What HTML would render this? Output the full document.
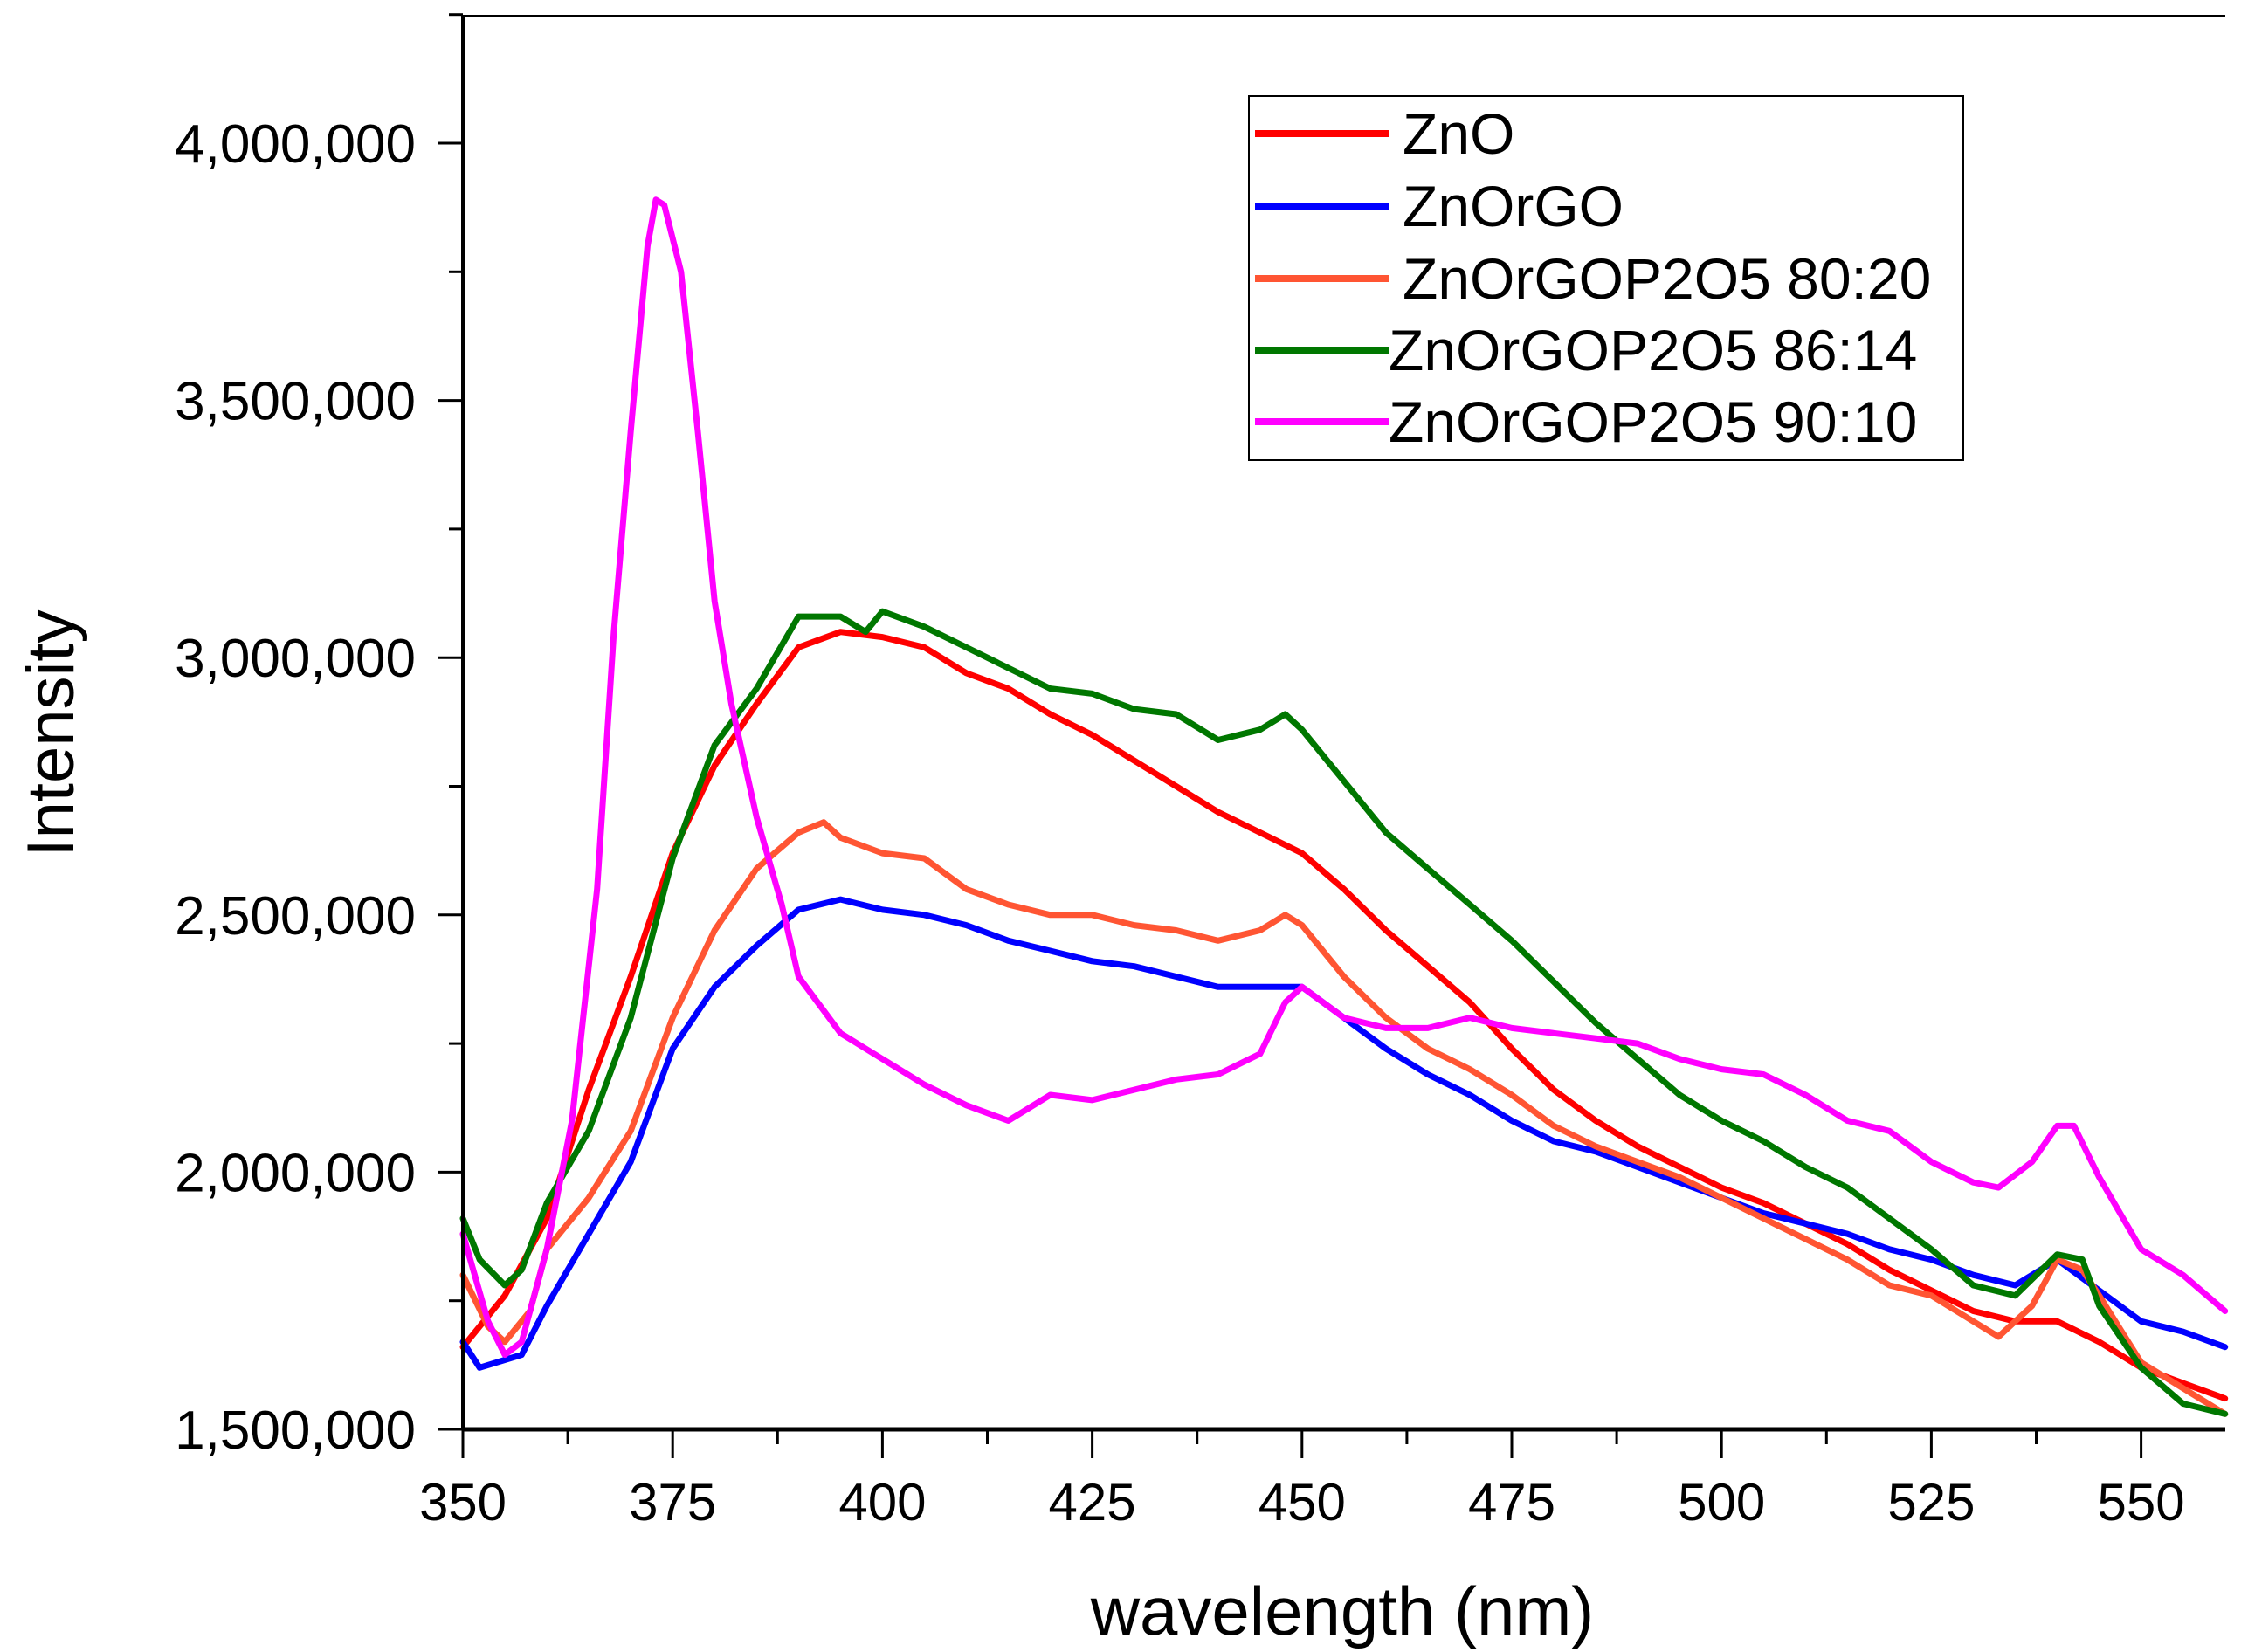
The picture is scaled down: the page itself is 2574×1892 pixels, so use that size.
<!DOCTYPE html>
<html><head><meta charset="utf-8"><style>
html,body{margin:0;padding:0;background:#fff;}
svg{display:block;font-family:"Liberation Sans",Arial,sans-serif;}
</style></head><body>
<svg id="chart" width="2574" height="1892" viewBox="0 0 2574 1892" xmlns="http://www.w3.org/2000/svg">
<rect width="2574" height="1892" fill="#fff"/>
<g id="series"></g>
<line x1="530" y1="18" x2="2548" y2="18" stroke="#000" stroke-width="2"/>
<g id="axes"></g>
<text x="1537" y="1872" font-size="78" text-anchor="middle">wavelength (nm)</text>
<text transform="translate(84,840) rotate(-90)" font-size="76" text-anchor="middle">Intensity</text>
<g id="legend">
<rect x="1430" y="110" width="818" height="417" fill="#fff" stroke="#000" stroke-width="2"/>
</g>
</svg>
<script>
const wlZnO=[350,355,360,365,370,375,380,385,390,395,400,405,410,415,420,425,430,435,440,445,450,455,460,465,470,475,480,485,490,495,500,505,510,515,520,525,530,535,540,545,550,555,560];
const valZnO=[1.66,1.76,1.91,2.16,2.38,2.62,2.79,2.91,3.02,3.05,3.04,3.02,2.97,2.94,2.89,2.85,2.80,2.75,2.70,2.66,2.62,2.55,2.47,2.40,2.33,2.24,2.16,2.10,2.05,2.01,1.97,1.94,1.90,1.86,1.81,1.77,1.73,1.71,1.71,1.67,1.62,1.59,1.56];
const wlGO=[350,352,355,357,360,365,370,375,380,385,390,395,400,405,410,415,420,425,430,435,440,445,450,455,460,465,470,475,480,485,490,495,500,505,510,515,520,525,530,535,540,545,550,555,560];
const valGO=[1.67,1.62,1.635,1.645,1.74,1.88,2.02,2.24,2.36,2.44,2.51,2.53,2.51,2.50,2.48,2.45,2.43,2.41,2.40,2.38,2.36,2.36,2.36,2.30,2.24,2.19,2.15,2.10,2.06,2.04,2.01,1.98,1.95,1.92,1.90,1.88,1.85,1.83,1.80,1.78,1.83,1.77,1.71,1.69,1.66];
const wl8020=[350,353,355,358,360,365,370,375,380,385,390,393,395,400,405,410,415,420,425,430,435,440,445,448,450,455,460,465,470,475,480,485,490,495,500,505,510,515,520,525,530,533,537,540,543,545,550,555,560];
const val8020=[1.80,1.70,1.67,1.73,1.85,1.95,2.08,2.30,2.47,2.59,2.66,2.68,2.65,2.62,2.61,2.55,2.52,2.50,2.50,2.48,2.47,2.45,2.47,2.50,2.48,2.38,2.30,2.24,2.20,2.15,2.09,2.05,2.02,1.99,1.95,1.91,1.87,1.83,1.78,1.76,1.71,1.68,1.74,1.83,1.81,1.76,1.63,1.58,1.53];
const wl8614=[350,352,355,357,360,365,370,375,380,385,390,395,398,400,405,410,415,420,425,430,435,440,445,448,450,455,460,465,470,475,480,485,490,495,500,505,510,515,520,525,530,535,540,543,545,550,555,560];
const val8614=[1.91,1.83,1.78,1.81,1.94,2.08,2.30,2.61,2.83,2.94,3.08,3.08,3.05,3.09,3.06,3.02,2.98,2.94,2.93,2.90,2.89,2.84,2.86,2.89,2.86,2.76,2.66,2.59,2.52,2.45,2.37,2.29,2.22,2.15,2.10,2.06,2.01,1.97,1.91,1.85,1.78,1.76,1.84,1.83,1.74,1.62,1.55,1.53];
const wl9010=[350,353,355,357,360,363,366,368,370,372,373,374,376,378,380,382,385,388,390,395,400,405,410,415,420,425,430,435,440,445,448,450,455,460,465,470,475,480,485,490,495,500,505,510,515,520,525,530,533,537,540,542,545,550,555,560];
const val9010=[1.88,1.71,1.645,1.67,1.85,2.10,2.55,3.05,3.44,3.80,3.89,3.88,3.75,3.44,3.11,2.91,2.69,2.52,2.38,2.27,2.22,2.17,2.13,2.10,2.15,2.14,2.16,2.18,2.19,2.23,2.33,2.36,2.30,2.28,2.28,2.30,2.28,2.27,2.26,2.25,2.22,2.20,2.19,2.15,2.10,2.08,2.02,1.98,1.97,2.02,2.09,2.09,1.99,1.85,1.80,1.73];
const xTicks=[350,375,400,425,450,475,500,525,550];
const yTicks=[1.5,2.0,2.5,3.0,3.5,4.0];
const yTickLabels=["1,500,000","2,000,000","2,500,000","3,000,000","3,500,000","4,000,000"];
const seriesNames=["ZnO","ZnOrGO","ZnOrGOP2O5 80:20","ZnOrGOP2O5 86:14","ZnOrGOP2O5 90:10"];

const NS="http://www.w3.org/2000/svg";
const X0=530,PX_PER_NM=240.2/25,Y0=1637,PX_PER_M=294.6/0.5,XEND=2548;
function xs(w){return X0+(w-350)*PX_PER_NM;}
function ys(v){return Y0-(v-1.5)*PX_PER_M;}
function mk(t,a,p){const e=document.createElementNS(NS,t);for(const k in a)e.setAttribute(k,a[k]);p.appendChild(e);return e;}

const seriesG=document.getElementById('series');
const defs=[[wlZnO,valZnO,"#ff0000","series-zno"],[wlGO,valGO,"#0000ff","series-znorgo"],[wl8020,val8020,"#ff5533","series-80-20"],[wl8614,val8614,"#007700","series-86-14"],[wl9010,val9010,"#ff00ff","series-90-10"]];
defs.forEach(d=>{
  const pts=d[0].map((w,i)=>xs(w).toFixed(1)+","+ys(d[1][i]).toFixed(1)).join(" ");
  const pl=mk('polyline',{points:pts,fill:"none",stroke:d[2],"stroke-width":7,"stroke-linejoin":"round","stroke-linecap":"round"},seriesG);
  
  
});

const ax=document.getElementById('axes');
const xa=mk('line',{x1:X0,y1:Y0,x2:XEND,y2:Y0,stroke:"#000","stroke-width":5},ax);


const ya=mk('line',{x1:X0,y1:18,x2:X0,y2:Y0,stroke:"#000","stroke-width":4},ax);


for(let w=350;w<=560;w+=12.5){
  const major=(w-350)%25===0;
  const t=mk('line',{x1:xs(w),y1:Y0,x2:xs(w),y2:Y0+(major?33:17),stroke:"#000","stroke-width":3},ax);
  
  
}
xTicks.forEach(w=>{
  const t=mk('text',{x:xs(w),y:1741,"font-size":60,"text-anchor":"middle"},ax);
  t.textContent=w;
  
  
});
for(let v=1.5;v<=4.26;v+=0.25){
  const major=Math.abs((v-1.5)/0.5-Math.round((v-1.5)/0.5))<1e-6;
  const t=mk('line',{x1:X0-(major?28:16),y1:ys(v),x2:X0,y2:ys(v),stroke:"#000","stroke-width":3},ax);
  
  
}
yTicks.forEach((v,i)=>{
  const t=mk('text',{x:476,y:ys(v)+22,"font-size":62,"text-anchor":"end"},ax);
  t.textContent=yTickLabels[i];
  
  
});

const lg=document.getElementById('legend');
const ly=[153,236,319,401,483];
const lx=[1606,1606,1606,1590,1590];
defs.forEach((d,i)=>{
  const l=mk('line',{x1:1437,y1:ly[i],x2:1590,y2:ly[i],stroke:d[2],"stroke-width":8},lg);
  
  
  const t=mk('text',{x:lx[i],y:ly[i]+23,"font-size":66},lg);
  t.textContent=seriesNames[i];
  
  
});
</script>
</body></html>
